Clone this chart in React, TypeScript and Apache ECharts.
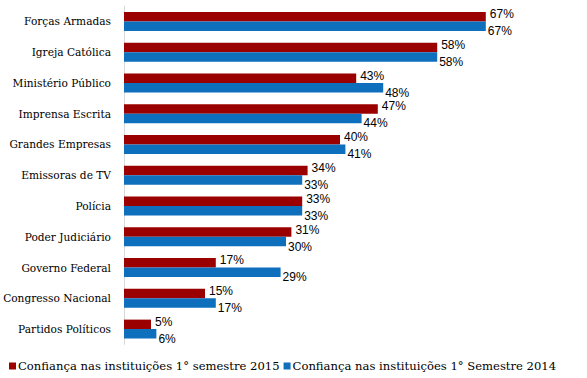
import React, { useEffect, useRef } from "react";
import * as echarts from "echarts";

const categories = [
  "Forças Armadas",
  "Igreja Católica",
  "Ministério Público",
  "Imprensa Escrita",
  "Grandes Empresas",
  "Emissoras de TV",
  "Polícia",
  "Poder Judiciário",
  "Governo Federal",
  "Congresso Nacional",
  "Partidos Políticos",
];
const series2015 = [67, 58, 43, 47, 40, 34, 33, 31, 17, 15, 5];
const series2014 = [67, 58, 48, 44, 41, 33, 33, 30, 29, 17, 6];
const name2015 = "Confiança nas instituições 1° semestre 2015";
const name2014 = "Confiança nas instituições 1° Semestre 2014";

export default function App() {
  const ref = useRef<HTMLDivElement>(null);
  useEffect(() => {
    const chart = echarts.init(ref.current!, undefined, { renderer: "svg" });
    const serif = "'DejaVu Serif', serif";
    const sans = "'Liberation Sans', Arial, sans-serif";
    chart.setOption({
      animation: false,
      backgroundColor: "#ffffff",
      grid: { left: 124, right: 31, top: 6, bottom: 33.5, containLabel: false },
      xAxis: {
        type: "value",
        min: 0,
        max: 80,
        show: false,
      },
      yAxis: {
        type: "category",
        data: categories,
        inverse: true,
        axisLine: { show: true, lineStyle: { color: "#d9d9d9", width: 1 } },
        axisTick: { show: false },
        axisLabel: { color: "#000", fontFamily: serif, fontSize: 10.6, margin: 13 },
        splitLine: { show: false },
      },
      legend: {
        bottom: 1,
        left: 4,
        icon: "rect",
        itemWidth: 7,
        itemHeight: 7,
        itemGap: 4,
        textStyle: { color: "#000", fontFamily: serif, fontSize: 11.6, padding: [0, 0, 0, -3] },
        data: [name2015, name2014],
      },
      series: [
        {
          name: name2015,
          type: "bar",
          data: series2015,
          itemStyle: { color: "#9b0000" },
          barWidth: 9.5,
          barGap: "0%",
          label: {
            show: true,
            position: "right",
            distance: 4,
            offset: [0, -2.5],
            formatter: "{c}%",
            color: "#000",
            fontFamily: sans,
            fontSize: 12,
          },
        },
        {
          name: name2014,
          type: "bar",
          data: series2014,
          itemStyle: { color: "#0e6fbd" },
          barWidth: 9.5,
          barGap: "0%",
          label: {
            show: true,
            position: "right",
            distance: 2,
            offset: [0, 5],
            formatter: "{c}%",
            color: "#000",
            fontFamily: sans,
            fontSize: 12,
          },
        },
      ],
    });
    return () => chart.dispose();
  }, []);
  return (
    <div
      ref={ref}
      style={{ position: "absolute", left: 0, top: 0, width: 587, height: 378 }}
    />
  );
}
